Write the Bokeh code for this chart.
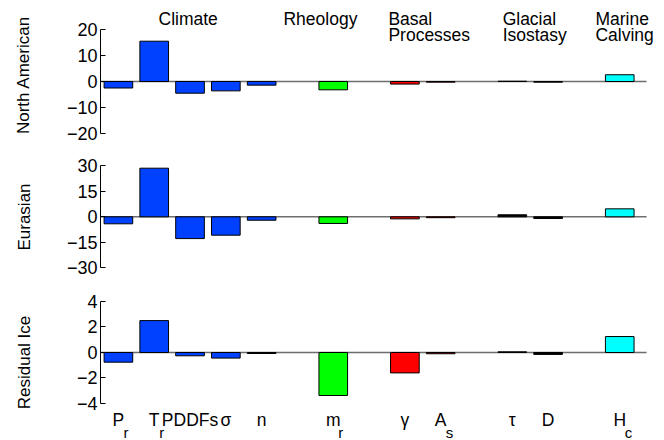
from bokeh.plotting import figure
from bokeh.layouts import column
from bokeh.models import Range1d, FixedTicker, ColumnDataSource
from bokeh.core.properties import value
from bokeh.embed import file_html
from bokeh.resources import INLINE

# ---------------- data ----------------
group_names = ["Climate", "Rheology", "Basal\nProcesses", "Glacial\nIsostasy", "Marine\nCalving"]
group_members = [5, 1, 2, 2, 1]
group_colors = ["#0040FF", "#00FF00", "#FF0000", "#000000", "#00FFFF"]

cat_main = ["P", "T", "PDDFs", "σ", "n", "m", "γ", "A", "τ", "D", "H"]
cat_sub = ["r", "r", "", "", "", "r", "", "s", "", "", "c"]

north_american = [-2.5, 15.5, -4.5, -3.6, -1.4, -3.2, -1.0, -0.25, 0.1, -0.25, 2.6]
eurasian = [-4.1, 28.6, -12.8, -10.8, -2.0, -3.9, -1.2, -0.5, 1.2, -1.0, 4.7]
residual_ice = [-0.76, 2.5, -0.26, -0.44, -0.08, -3.37, -1.6, -0.1, 0.05, -0.15, 1.25]

panel_names = ["North American", "Eurasian", "Residual Ice"]
panel_ticks = [[-20, -10, 0, 10, 20], [-30, -15, 0, 15, 30], [-4, -2, 0, 2, 4]]

# ---------------- layout helpers ----------------
FONT = "Liberation Sans"
xs, colors, group_first = [], [], []
pos = 1
for gi, n in enumerate(group_members):
    group_first.append(pos)
    for k in range(n):
        xs.append(pos)
        colors.append(group_colors[gi])
        pos += 1
    pos += 1
x_lo = xs[0] - 0.5
x_hi = xs[-1] + 0.75

group_title_offset = [1.12, -1.39, -0.46, -0.27, -0.68]

panel_cfg = [
    # y_range, height, axis_label_standoff
    ((-26.15, 31.15), 149, 31),
    ((-39.8, 39.6), 135, 30),
    ((-6.9, 5.33), 156, 40),
]
series = [north_american, eurasian, residual_ice]

figs = []
for i in range(3):
    yr, h, stand = panel_cfg[i]
    p = figure(width=664, height=h, x_range=Range1d(x_lo, x_hi + 0.5), y_range=Range1d(*yr),
               output_backend="svg", toolbar_location=None, x_axis_location=None,
               min_border_left=100, min_border_right=0, min_border_top=0, min_border_bottom=0)
    p.outline_line_color = None
    p.grid.visible = False
    ax = p.yaxis[0]
    ticks = panel_ticks[i]
    ax.bounds = (ticks[0], ticks[-1])
    ax.ticker = FixedTicker(ticks=ticks)
    ax.minor_tick_line_color = None
    ax.major_tick_in = 5
    ax.major_tick_out = 0
    ax.major_label_standoff = 3
    ax.major_label_text_font = FONT
    ax.major_label_text_font_size = "18px"
    ax.major_label_text_color = "black"
    ax.axis_line_color = "black"
    ax.major_tick_line_color = "black"
    ax.axis_label = panel_names[i]
    ax.axis_label_text_font = FONT
    ax.axis_label_text_font_size = "17px"
    ax.axis_label_text_font_style = "normal"
    ax.axis_label_text_color = "black"
    ax.axis_label_standoff = stand

    # zero baseline across the bar area
    p.segment(x0=[x_lo], x1=[x_hi], y0=[0], y1=[0], line_color="#6e6e6e", line_width=1.5)
    src = ColumnDataSource(dict(x=xs, top=series[i], color=colors))
    p.vbar(x="x", top="top", bottom=0, width=0.8, fill_color="color", line_color="black",
           line_width=1, source=src)
    figs.append(p)

# group titles on top panel
p1 = figs[0]
l1x, l1t, l2x, l2t = [], [], [], []
for gi, name in enumerate(group_names):
    lines = name.split("\n")
    gx = group_first[gi] + group_title_offset[gi]
    l1x.append(gx); l1t.append(lines[0])
    if len(lines) > 1:
        l2x.append(gx); l2t.append(lines[1])
p1.text(x=l1x, y=[23.9] * len(l1x), text=l1t, text_font=value(FONT), text_font_size="17.5px",
        text_align="left", text_baseline="alphabetic", text_color="black")
p1.text(x=l2x, y=[17.8] * len(l2x), text=l2t, text_font=value(FONT), text_font_size="17.5px",
        text_align="left", text_baseline="alphabetic", text_color="black")

# category labels on bottom panel
p3 = figs[2]
p3.text(x=xs, y=[-5.26] * len(xs), text=cat_main, text_font=value(FONT), text_font_size="17.5px",
        text_align="center", text_baseline="alphabetic", text_color="black")
sx = [x for x, s in zip(xs, cat_sub) if s]
st = [s for s in cat_sub if s]
p3.text(x=sx, y=[-6.3] * len(sx), text=st, text_font=value(FONT), text_font_size="15px",
        text_align="left", text_baseline="alphabetic", text_color="black", x_offset=5)

layout = column(*figs)
open("out.html", "w").write(file_html(layout, INLINE))
